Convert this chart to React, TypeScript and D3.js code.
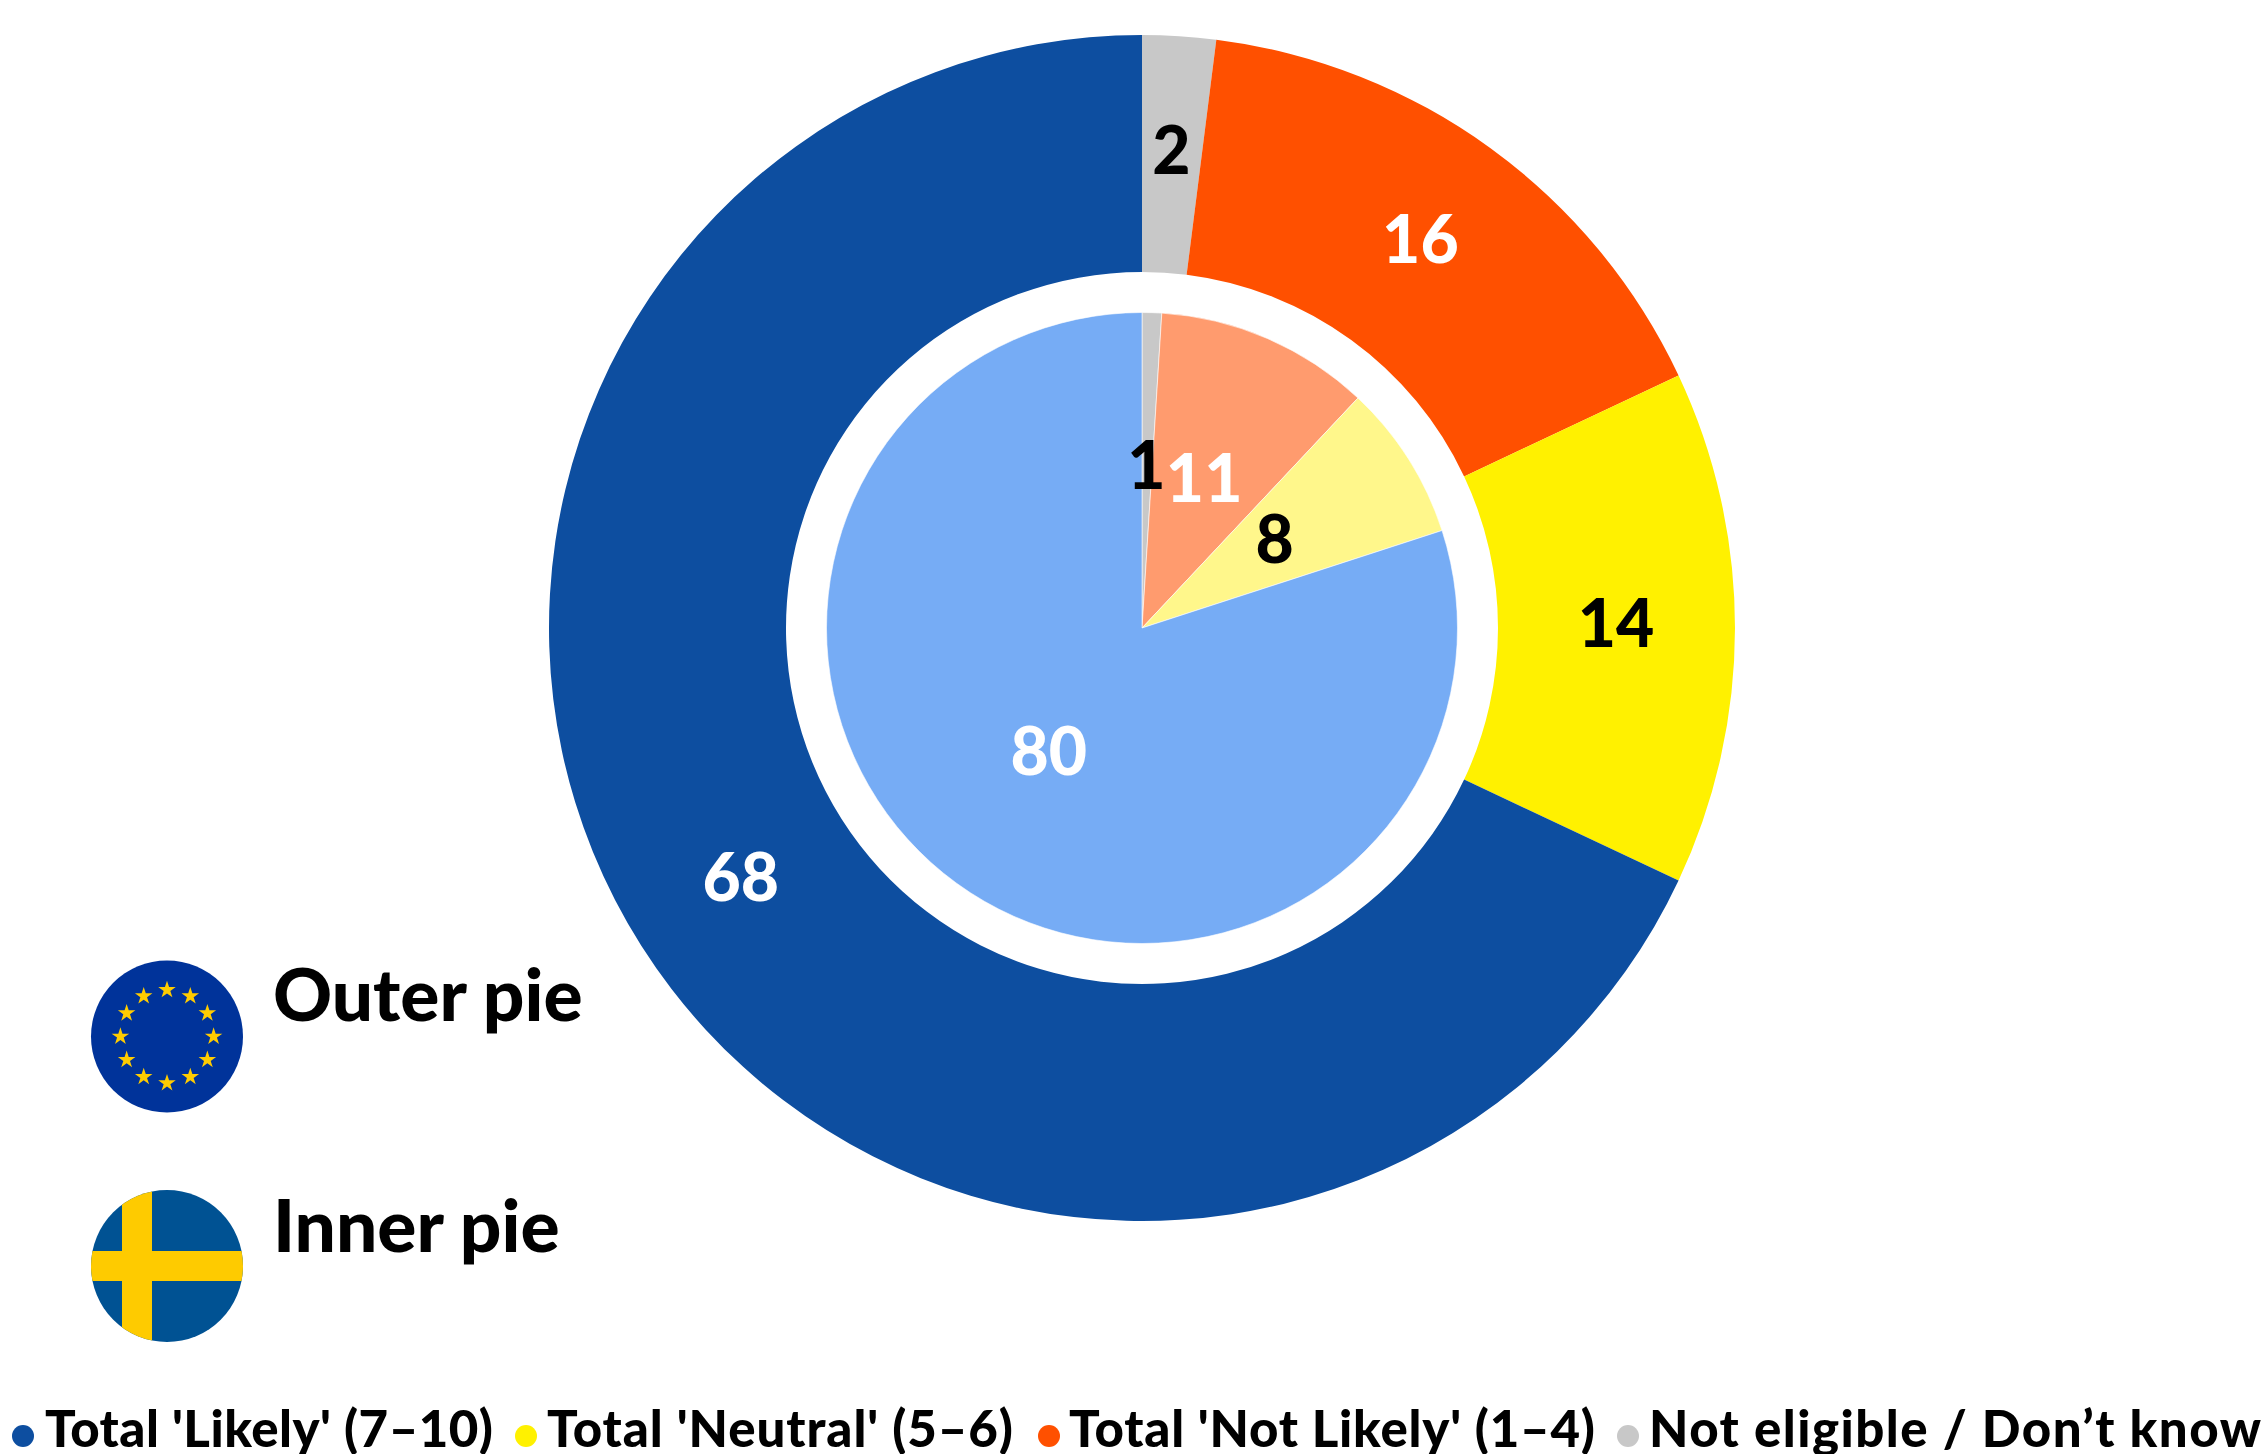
import React from "react";
import * as d3 from "d3";

const categories = ["Not eligible / Don’t know", "Total 'Not Likely' (1–4)", "Total 'Neutral' (5–6)", "Total 'Likely' (7–10)"];
const outerValues = [2, 16, 14, 68];
const innerValues = [1, 11, 8, 80];
const outerColors = ["#C8C8C8", "#FF5000", "#FFF100", "#0D4EA0"];
const innerColors = ["#C8C8C8", "#FF9B6E", "#FFF78B", "#76ACF5"];
const outerLabelColors = ["#000", "#fff", "#000", "#fff"];
const innerLabelColors = ["#000", "#fff", "#000", "#fff"];

// legend runs in the other order, left to right
const legendOrder = [3, 2, 1, 0];
const legendDotX = [23, 526, 1049, 1628];
const legendTextX = [45, 547, 1069, 1649];
const legendTextWidth = [448, 466, 526, 612];

const width = 2264;
const height = 1454;
const cx = 1142;
const cy = 628;
const font = "Lato, sans-serif";

const pie = d3.pie<number>().sort(null);

function Ring({ values, colors, labelColors, inner, outer, stroke }: any) {
  const arc = d3.arc<d3.PieArcDatum<number>>().innerRadius(inner).outerRadius(outer);
  return (
    <g transform={`translate(${cx},${cy})`}>
      {pie(values).map((d, i) => (
        <path key={i} d={arc(d) as string} fill={colors[i]} stroke={stroke} strokeWidth={stroke ? 0.6 : 0} />
      ))}
      {pie(values).map((d, i) => {
        const [x, y] = arc.centroid(d);
        return (
          <text key={i} x={x - 0.5} y={y - 4} dy="0.35em" textAnchor="middle" fontSize={66} fontWeight={900} fill={labelColors[i]}>
            {d.value}
          </text>
        );
      })}
    </g>
  );
}

function EuFlag({ x, y, r }: { x: number; y: number; r: number }) {
  const star = d3.symbol().type(d3.symbolStar).size(95)() as string;
  return (
    <g transform={`translate(${x},${y})`}>
      <circle r={r} fill="#00339A" />
      {d3.range(12).map((i) => {
        const a = (i * Math.PI) / 6;
        return <path key={i} d={star} fill="#FFCC00" transform={`translate(${46.6 * Math.sin(a)},${-46.6 * Math.cos(a)})`} />;
      })}
    </g>
  );
}

function SeFlag({ x, y, r }: { x: number; y: number; r: number }) {
  return (
    <g>
      <clipPath id="se-clip">
        <circle cx={x} cy={y} r={r} />
      </clipPath>
      <g clipPath="url(#se-clip)">
        <rect x={x - r} y={y - r} width={r * 2} height={r * 2} fill="#005293" />
        <rect x={x - 45} y={y - r} width={30} height={r * 2} fill="#FECB00" />
        <rect x={x - r} y={y - 15} width={r * 2} height={30} fill="#FECB00" />
      </g>
    </g>
  );
}

export default function App() {
  return (
    <svg width={width} height={height} style={{ position: "absolute", left: 0, top: 0 }} fontFamily={font}>
      <Ring values={outerValues} colors={outerColors} labelColors={outerLabelColors} inner={356} outer={593} />
      <Ring values={innerValues} colors={innerColors} labelColors={innerLabelColors} inner={0} outer={315.5} stroke="#fff" />

      <EuFlag x={167} y={1036.5} r={76} />
      <text x={273} y={1021} fontSize={73} fontWeight={900}>Outer pie</text>
      <SeFlag x={167} y={1266} r={76} />
      <text x={273} y={1252} fontSize={73} fontWeight={900}>Inner pie</text>

      {legendOrder.map((c, i) => (
        <g key={c}>
          <circle cx={legendDotX[i]} cy={1436} r={11} fill={outerColors[c]} />
          <text x={legendTextX[i]} y={1447} fontSize={51} fontWeight={900} textLength={legendTextWidth[i]} lengthAdjust="spacing">
            {categories[c]}
          </text>
        </g>
      ))}
    </svg>
  );
}
